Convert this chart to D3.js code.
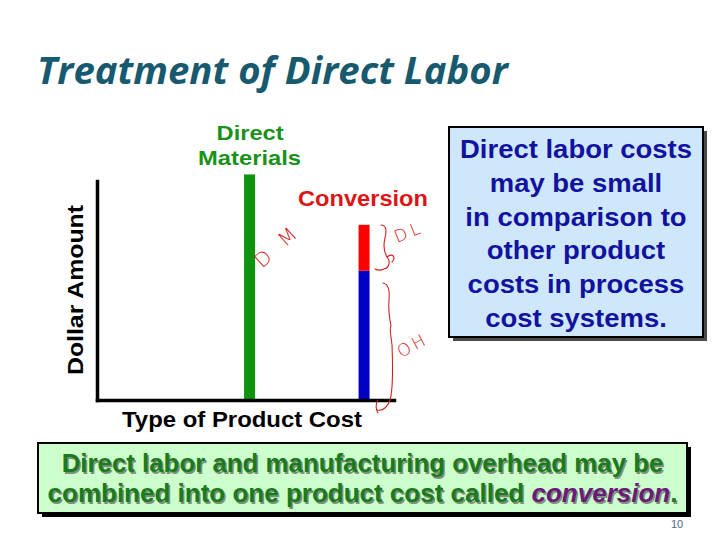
<!DOCTYPE html>
<html>
<head>
<meta charset="utf-8">
<script src="https://cdn.jsdelivr.net/npm/d3@7"></script>
<style>
  html, body { margin: 0; padding: 0; background: #fff; }
  svg { display: block; }
</style>
</head>
<body>
<svg id="chart" width="720" height="540"></svg>
<script>
// ---- data ----
const categories = ["Direct Materials", "Conversion"];
const seriesNames = ["Direct Materials", "Manufacturing Overhead", "Direct Labor"];
const directMaterialsValues = [103, 0];
const overheadValues = [0, 59];
const directLaborValues = [0, 21];
const seriesColors = ["#109410", "#0000c4", "#ff0000"];
const categoryLabelColors = ["#1a921a", "#e01414"];
const titleText = "Treatment of Direct Labor";
const yAxisTitle = "Dollar Amount";
const xAxisTitle = "Type of Product Cost";
const noteLines = ["Direct labor costs", "may be small", "in comparison to", "other product", "costs in process", "cost systems."];
const footerLine1 = "Direct labor and manufacturing overhead may be";
const footerLine2a = "combined into one product cost called ";
const footerLine2b = "conversion";
const pageNumber = "10";

const svg = d3.select("#chart");
const sans = "'Liberation Sans', Arial, sans-serif";

// stretch text horizontally to a target width
function fitWidth(sel, target) {
  sel.attr("textLength", target).attr("lengthAdjust", "spacingAndGlyphs");
}

// title
const title = svg.append("text")
  .attr("x", 37).attr("y", 84)
  .attr("font-family", "'Open Sans', sans-serif")
  .attr("font-weight", 700).attr("font-style", "italic")
  .attr("font-size", 36).attr("fill", "#17596f")
  .text(titleText);
{ const w = title.node().getComputedTextLength(); title.attr("font-size", 36 * 471 / w); }

// plot area
const plot = { left: 97, right: 394, top: 181, bottom: 400 };
const x = d3.scalePoint().domain(categories).range([plot.left, plot.right]).padding(0.797).align(0.836);
const y = d3.scaleLinear().domain([0, 100]).range([plot.bottom, plot.top]);

const table = categories.map((c, i) => ({
  category: c,
  "Direct Materials": directMaterialsValues[i],
  "Manufacturing Overhead": overheadValues[i],
  "Direct Labor": directLaborValues[i]
}));
const stacked = d3.stack().keys(seriesNames)(table);
const barW = 11;

svg.append("g").selectAll("g").data(stacked).join("g")
  .attr("fill", (d, i) => seriesColors[i])
  .selectAll("rect").data(d => d.filter(p => p[1] > p[0])).join("rect")
  .attr("x", d => x(d.data.category) - barW / 2)
  .attr("width", barW)
  .attr("y", d => y(d[1]))
  .attr("height", d => y(d[0]) - y(d[1]));

// axes
svg.append("g").attr("transform", `translate(${plot.left},0)`)
  .call(d3.axisLeft(y).tickValues([]).tickSizeOuter(0));
const xLin = d3.scaleLinear().range([plot.left, plot.right]);
svg.append("g").attr("transform", `translate(0,${plot.bottom})`)
  .call(d3.axisBottom(xLin).tickValues([]).tickSizeOuter(0));
svg.selectAll(".domain").attr("stroke", "#000").attr("stroke-width", 3.5).attr("stroke-linecap", "square");

// axis titles
svg.append("text")
  .attr("transform", `translate(83,290) rotate(-90)`)
  .attr("x", -85).attr("font-family", sans).attr("font-weight", 700)
  .attr("font-size", 21.5).attr("fill", "#000")
  .text(yAxisTitle).call(fitWidth, 170);
svg.append("text")
  .attr("x", 122).attr("y", 427)
  .attr("font-family", sans).attr("font-weight", 700)
  .attr("font-size", 21.5).attr("fill", "#000")
  .text(xAxisTitle).call(fitWidth, 240);

// category labels
const cx0 = x(categories[0]);
svg.append("text").attr("x", cx0 - 33).attr("y", 140)
  .attr("font-family", sans).attr("font-weight", 700).attr("font-size", 21)
  .attr("fill", categoryLabelColors[0]).text("Direct").call(fitWidth, 67);
svg.append("text").attr("x", cx0 - 51.5).attr("y", 165)
  .attr("font-family", sans).attr("font-weight", 700).attr("font-size", 21)
  .attr("fill", categoryLabelColors[0]).text("Materials").call(fitWidth, 103);
svg.append("text")
  .attr("x", 298).attr("y", 206)
  .attr("font-family", sans).attr("font-weight", 700).attr("font-size", 21.5)
  .attr("fill", categoryLabelColors[1])
  .text(categories[1]).call(fitWidth, 130);

// handwritten annotations
const hand = svg.append("g").attr("fill", "none").attr("stroke", "#d42020").attr("stroke-width", 1.1)
  .attr("stroke-linecap", "round");
hand.append("path").attr("d", "M381,225 C386,225 387,230 385,238 C383,246 384,252 387,257 C391,262 389,268 384,269 C380,271 377,270 375,269");
hand.append("path").attr("d", "M387,257 C393,252 396,258 392,262");
hand.append("path").attr("d", "M383,283 C388,284 390,290 389,300 C388,312 390,320 391,326 C389,328 391,335 392,345 C393,370 393,390 390,400 C387,408 382,411 377,410");
hand.append("path").attr("d", "M378,400 C375,404 376,410 378,413");
const handText = (t, tx, ty, rot, size, ls) => svg.append("text")
  .attr("transform", `translate(${tx},${ty}) rotate(${rot})`)
  .attr("font-family", "'DejaVu Sans', sans-serif").attr("font-weight", 200)
  .attr("font-size", size).attr("fill", "#d42020").attr("letter-spacing", ls)
  .text(t);
handText("D M", 262, 269, -42, 20, 5);
handText("DL", 397, 243, -22, 17, 4);
handText("OH", 401, 358, -28, 17, 3);

// blue note box
const nb = { x: 449, y: 127, w: 254, h: 210 };
svg.append("rect").attr("x", nb.x + 4).attr("y", nb.y + 4).attr("width", nb.w).attr("height", nb.h).attr("fill", "#4a4a4a");
svg.append("rect").attr("x", nb.x).attr("y", nb.y).attr("width", nb.w).attr("height", nb.h)
  .attr("fill", "#cfe7fb").attr("stroke", "#000").attr("stroke-width", 2);
const noteTexts = svg.append("g").selectAll("text").data(noteLines).join("text")
  .attr("x", nb.x + nb.w / 2).attr("y", (d, i) => 158 + i * 33.8)
  .attr("text-anchor", "middle")
  .attr("font-family", sans)
  .attr("font-weight", 700).attr("font-size", 25).attr("fill", "#1212a0")
  .text(d => d);
{
  const r = 232 / noteTexts.nodes()[0].getComputedTextLength();
  noteTexts.each(function () {
    const w = this.getComputedTextLength();
    d3.select(this).call(fitWidth, w * r);
  });
}

// green footer box
const fb = { x: 38, y: 443, w: 649, h: 70 };
svg.append("rect").attr("x", fb.x + 4).attr("y", fb.y + 4).attr("width", fb.w).attr("height", fb.h).attr("fill", "#000");
svg.append("rect").attr("x", fb.x).attr("y", fb.y).attr("width", fb.w).attr("height", fb.h)
  .attr("fill", "#ccffcc").attr("stroke", "#000").attr("stroke-width", 2);
const footFont = "'Liberation Sans Narrow', 'Liberation Sans', Arial, sans-serif";
function footerText(dx, dy, shadow) {
  const g = svg.append("g").attr("transform", `translate(${dx},${dy})`)
    .attr("font-family", footFont).attr("font-weight", 700).attr("font-size", 23);
  const t1 = g.append("text").attr("x", fb.x + fb.w / 2).attr("y", 472).attr("text-anchor", "middle")
    .attr("fill", shadow ? "#7f8f7f" : "#1b7a1b").text(footerLine1);
  const t2 = g.append("text").attr("x", fb.x + fb.w / 2).attr("y", 502).attr("text-anchor", "middle")
    .attr("fill", shadow ? "#7f8f7f" : "#1b7a1b");
  t2.append("tspan").text(footerLine2a);
  t2.append("tspan").attr("font-style", "italic").attr("fill", shadow ? "#7f8f7f" : "#6a1a78").text(footerLine2b);
  t2.append("tspan").text(".");
  return [t1, t2];
}
const sh = footerText(1.5, 1.5, true);
const fg = footerText(0, 0, false);
[[0, 602], [1, 630]].forEach(([k, target]) => {
  const w = fg[k].node().getComputedTextLength();
  const s = 23 * target / w;
  fg[k].attr("font-size", s); sh[k].attr("font-size", s);
});

svg.append("text").attr("x", 677).attr("y", 528).attr("text-anchor", "middle")
  .attr("font-family", "'Liberation Sans Narrow', 'Liberation Sans', sans-serif")
  .attr("font-size", 11).attr("fill", "#4a6a8a").text(pageNumber);
</script>
</body>
</html>
